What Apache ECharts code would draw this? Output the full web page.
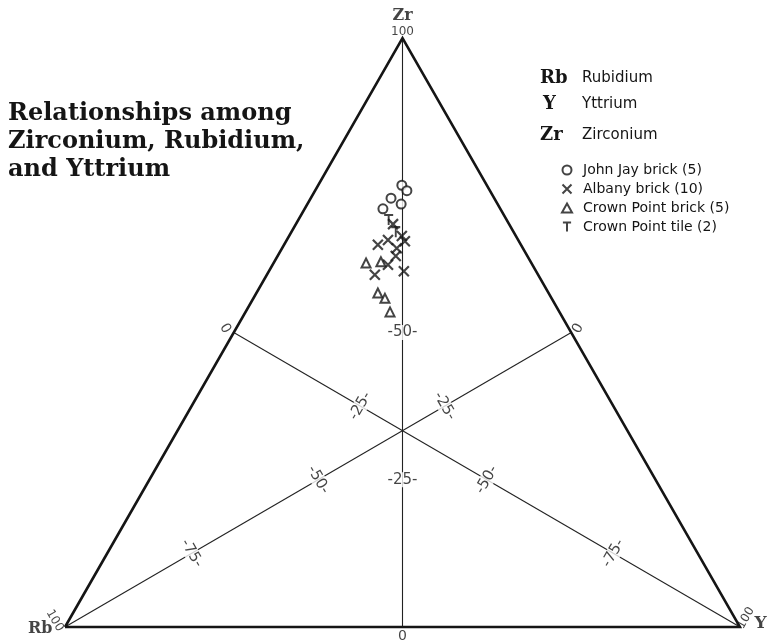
<!DOCTYPE html>
<html>
<head>
<meta charset="utf-8">
<title>Zirconium, Rubidium, Yttrium</title>
<script src="https://cdn.jsdelivr.net/npm/echarts@6/dist/echarts.min.js"></script>
<style>
  html, body { margin: 0; padding: 0; background: #fff; }
  #chart { width: 771px; height: 643px; }
</style>
</head>
<body>
<div id="chart"></div>
<script>
// compositions, each point is [Rb, Y, Zr] in percent
var johnJay = [[12.6, 12.4, 75.0], [12.3, 13.6, 74.0], [15.3, 11.9, 72.8], [14.3, 13.9, 71.8], [17.4, 11.6, 71.0]];
var albany = [[17.2, 14.4, 68.4], [16.9, 16.7, 66.4], [16.9, 17.6, 65.5], [21.2, 13.9, 64.9], [19.3, 15.0, 65.7],
              [18.7, 17.0, 64.3], [19.5, 17.5, 63.0], [21.4, 17.1, 61.5], [24.2, 16.0, 59.8], [19.6, 20.0, 60.4]];
var crownBrick = [[24.5, 13.7, 61.8], [22.2, 15.8, 62.0], [25.3, 18.0, 56.7], [24.7, 19.5, 55.8], [25.1, 21.4, 53.5]];
var crownTile = [[17.5, 13.4, 69.1], [17.5, 15.5, 67.1]];

var seriesNames = ['John Jay brick (5)', 'Albany brick (10)', 'Crown Point brick (5)', 'Crown Point tile (2)'];
var zrTicks = [25, 50];
var rbTicks = [25, 50, 75];
var yTicks = [25, 50, 75];

var ink = '#151515';

// ternary -> plane (x from Rb to Y, y = Zr fraction)
function tern(rb, y, zr) {
    var s = rb + y + zr;
    return [(y + zr / 2) / s, zr / s];
}
function toPts(list) {
    return list.map(function (p) { return tern(p[0], p[1], p[2]); });
}

var chart = echarts.init(document.getElementById('chart'));

function guide(a, b) {
    return {
        type: 'line', data: [a, b], symbol: 'none', silent: true, clip: false, z: 2,
        lineStyle: { color: '#222', width: 1.1 }
    };
}

function tickSeries(items, rot) {
    return {
        type: 'scatter', data: items, symbolSize: 1, silent: true, z: 6,
        itemStyle: { color: 'rgba(0,0,0,0)' },
        label: {
            show: true, position: 'inside', formatter: '{b}', rotate: rot,
            fontFamily: 'DejaVu Sans', fontSize: 15, color: ink,
            backgroundColor: '#fff', padding: [0, 1]
        }
    };
}

var zrLabels = zrTicks.map(function (t) { return { name: '-' + t + '-', value: tern((100 - t) / 2, (100 - t) / 2, t) }; });
var rbLabels = rbTicks.map(function (t) { return { name: '-' + t + '-', value: tern(t, (100 - t) / 2, (100 - t) / 2) }; });
var yLabels = yTicks.map(function (t) { return { name: '-' + t + '-', value: tern((100 - t) / 2, t, (100 - t) / 2) }; });

var zeroLabels = [
    { name: '0', value: tern(50, 50, 0), label: { position: 'bottom', distance: 2 } },
    { name: '0', value: tern(50, 0, 50), label: { position: 'left', distance: 6, rotate: -60 } },
    { name: '0', value: tern(0, 50, 50), label: { position: 'right', distance: 4, rotate: 60 } }
];

var vertexLabels = [
    { name: 'Zr', value: tern(0, 0, 100), label: { position: 'top', distance: 14, fontFamily: 'DejaVu Serif', fontWeight: 'bold', fontSize: 16 } },
    { name: '100', value: tern(0, 0, 100), label: { position: 'top', distance: 0, fontSize: 12 } },
    { name: 'Rb', value: tern(100, 0, 0), label: { position: 'left', distance: 12, fontFamily: 'DejaVu Serif', fontWeight: 'bold', fontSize: 16, offset: [0, 2] } },
    { name: '100', value: tern(100, 0, 0), label: { position: 'left', distance: -2, fontSize: 12, rotate: -60, offset: [0, 7] } },
    { name: 'Y', value: tern(0, 100, 0), label: { position: 'right', distance: 14, fontFamily: 'DejaVu Serif', fontWeight: 'bold', fontSize: 17, offset: [0, -3] } },
    { name: '100', value: tern(0, 100, 0), label: { position: 'right', distance: -2, fontSize: 12, rotate: 60, offset: [0, 2] } }
];

var option = {
    animation: false,
    backgroundColor: '#fff',
    grid: { left: 65, right: 31, top: 38, bottom: 16 },
    xAxis: { type: 'value', min: 0, max: 1, show: false },
    yAxis: { type: 'value', min: 0, max: 1, show: false },
    legend: {
        data: seriesNames,
        orient: 'vertical', left: 556, top: 158,
        itemWidth: 10, itemHeight: 9, itemGap: 5,
        selectedMode: false,
        textStyle: { fontFamily: 'DejaVu Sans', fontSize: 14, color: ink, lineHeight: 14, padding: [0, 0, 0, 6] }
    },
    graphic: [
        {
            type: 'text', left: 8, top: 100,
            style: { text: 'Relationships among\nZirconium, Rubidium,\nand Yttrium', font: 'bold 24px "DejaVu Serif"', lineHeight: 28, fill: ink }
        },
        { type: 'text', left: 540, top: 69, style: { text: 'Rb', font: 'bold 18px "DejaVu Serif"', fill: ink } },
        { type: 'text', left: 582, top: 71, style: { text: 'Rubidium', font: '15px "DejaVu Sans"', fill: ink } },
        { type: 'text', left: 543, top: 95, style: { text: 'Y', font: 'bold 18px "DejaVu Serif"', fill: ink } },
        { type: 'text', left: 582, top: 97, style: { text: 'Yttrium', font: '15px "DejaVu Sans"', fill: ink } },
        { type: 'text', left: 540, top: 126, style: { text: 'Zr', font: 'bold 18px "DejaVu Serif"', fill: ink } },
        { type: 'text', left: 582, top: 128, style: { text: 'Zirconium', font: '15px "DejaVu Sans"', fill: ink } }
    ],
    series: [
        {
            type: 'line', data: [tern(100, 0, 0), tern(0, 100, 0), tern(0, 0, 100), tern(100, 0, 0)],
            symbol: 'none', silent: true, clip: false, z: 3,
            lineStyle: { color: ink, width: 2.6, join: 'miter' }
        },
        guide(tern(0, 0, 100), tern(50, 50, 0)),
        guide(tern(100, 0, 0), tern(0, 50, 50)),
        guide(tern(0, 100, 0), tern(50, 0, 50)),
        {
            name: seriesNames[0], type: 'scatter', data: toPts(johnJay), z: 8,
            symbol: 'emptyCircle', symbolSize: 9,
            itemStyle: { color: ink, borderColor: ink, borderWidth: 1.6 }
        },
        {
            name: seriesNames[1], type: 'scatter', data: toPts(albany), z: 8,
            symbol: 'path://M0,0L10,10M10,0L0,10', symbolSize: 10,
            itemStyle: { color: ink, borderColor: ink, borderWidth: 2.2 }
        },
        {
            name: seriesNames[2], type: 'scatter', data: toPts(crownBrick), z: 8,
            symbol: 'emptyTriangle', symbolSize: 9,
            itemStyle: { color: ink, borderColor: ink, borderWidth: 1.6 }
        },
        {
            name: seriesNames[3], type: 'scatter', data: toPts(crownTile), z: 8,
            symbol: 'path://M0,0L10,0M5,0L5,11', symbolSize: [9, 10],
            itemStyle: { color: ink, borderColor: ink, borderWidth: 2 }
        },
        tickSeries(zrLabels, 0),
        tickSeries(rbLabels, -60),
        tickSeries(yLabels, 60),
        {
            type: 'scatter', data: zeroLabels.concat(vertexLabels), symbolSize: 1, silent: true, z: 6,
            itemStyle: { color: 'rgba(0,0,0,0)' },
            label: { show: true, formatter: '{b}', fontFamily: 'DejaVu Sans', fontSize: 14, color: ink }
        }
    ]
};

chart.setOption(option);
</script>
</body>
</html>
